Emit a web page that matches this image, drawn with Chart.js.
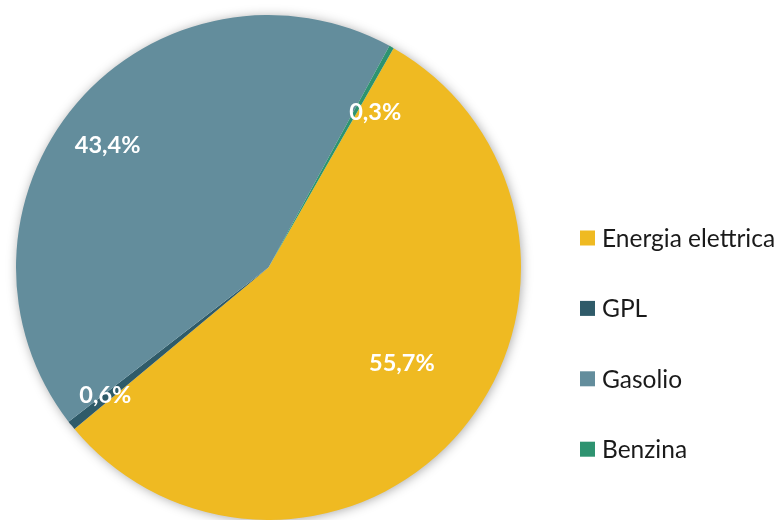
<!DOCTYPE html>
<html>
<head>
<meta charset="utf-8">
<script src="https://cdn.jsdelivr.net/npm/chart.js@4"></script>
<style>
  html, body { margin: 0; padding: 0; background: #ffffff; overflow: hidden; }
  #wrap { width: 778px; height: 520px; position: relative; }
</style>
</head>
<body>
<div id="wrap"><canvas id="c" width="778" height="520"></canvas></div>
<script>
// ---- data ----
const categories = ["Energia elettrica", "GPL", "Gasolio", "Benzina"];
const shares = [55.7, 0.6, 43.4, 0.3];
const labelTexts = ["55,7%", "0,6%", "43,4%", "0,3%"];

// ---- styles ----
const sliceColors = ["#EFBA22", "#2F5B69", "#638D9C", "#2E9370"];
const labelPlacement = [ // radial fraction, angle offset (deg)
  { frac: 0.65, off: -4.3 },
  { frac: 0.82, off: 0.7 },
  { frac: 0.80, off: -3.3 },
  { frac: 0.745, off: 5.4 }
];
const FONT = "Lato, 'Open Sans', sans-serif";

const shadowPlugin = {
  id: 'pieShadow',
  beforeDatasetsDraw(chart) {
    const arc = chart.getDatasetMeta(0).data[0];
    if (!arc) return;
    const ctx = chart.ctx;
    ctx.save();
    ctx.shadowColor = 'rgba(0,0,0,0.38)';
    ctx.shadowBlur = 12;
    ctx.shadowOffsetX = 1;
    ctx.shadowOffsetY = 1;
    ctx.fillStyle = '#ffffff';
    ctx.beginPath();
    ctx.arc(arc.x, arc.y, arc.outerRadius - 1, 0, Math.PI * 2);
    ctx.fill();
    ctx.restore();
  }
};

const labelPlugin = {
  id: 'sliceLabels',
  afterDatasetsDraw(chart) {
    const ctx = chart.ctx;
    const meta = chart.getDatasetMeta(0);
    ctx.save();
    ctx.fillStyle = '#ffffff';
    ctx.font = "bold 23.5px " + FONT;
    ctx.textAlign = 'center';
    ctx.textBaseline = 'middle';
    meta.data.forEach((arc, i) => {
      const p = labelPlacement[i];
      const a = (arc.startAngle + arc.endAngle) / 2 + p.off * Math.PI / 180;
      const r = arc.outerRadius * p.frac;
      ctx.fillText(labelTexts[i], arc.x + Math.cos(a) * r, arc.y + Math.sin(a) * r);
    });
    ctx.restore();
  }
};

const legendPlugin = {
  id: 'sideLegend',
  afterDraw(chart) {
    const ctx = chart.ctx;
    const labels = chart.data.labels;
    const colors = chart.data.datasets[0].backgroundColor;
    const boxX = 580, box = 15, firstY = 238, step = 70.4;
    ctx.save();
    ctx.font = "24.5px " + FONT;
    ctx.textAlign = 'left';
    ctx.textBaseline = 'middle';
    labels.forEach((lab, i) => {
      const cy = firstY + i * step;
      ctx.fillStyle = colors[i];
      ctx.fillRect(boxX, cy - box / 2, box, box);
      ctx.fillStyle = '#1a1a1a';
      ctx.fillText(lab, boxX + 22, cy + 1);
    });
    ctx.restore();
  }
};

new Chart(document.getElementById('c'), {
  type: 'pie',
  data: {
    labels: categories,
    datasets: [{
      data: shares,
      backgroundColor: sliceColors,
      borderWidth: 0,
      hoverOffset: 0
    }]
  },
  options: {
    responsive: false,
    animation: false,
    rotation: 29.7,
    layout: { padding: { left: 14, right: 255, top: 15, bottom: -4 } },
    plugins: {
      legend: { display: false },
      tooltip: { enabled: false }
    }
  },
  plugins: [shadowPlugin, labelPlugin, legendPlugin]
});
</script>
</body>
</html>
